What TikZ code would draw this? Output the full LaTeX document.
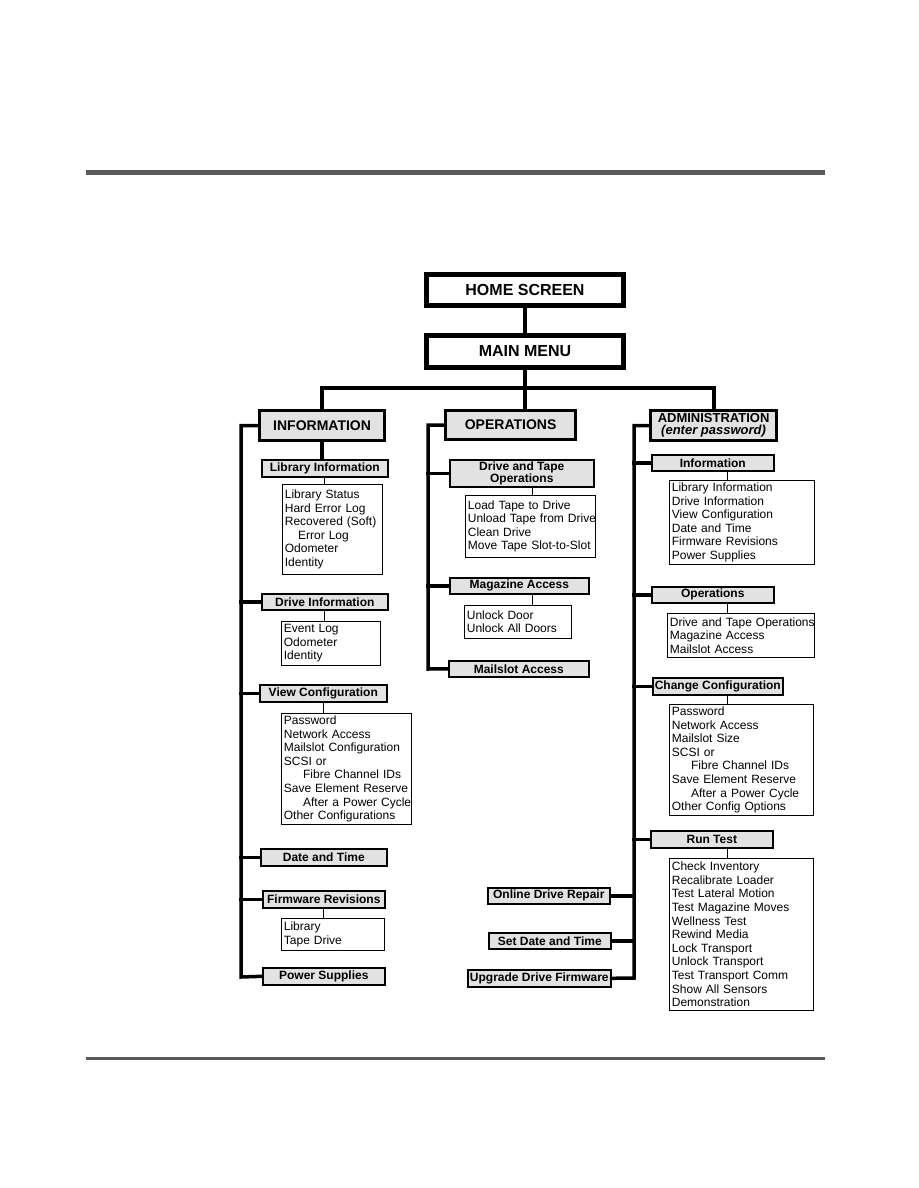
\documentclass[tikz,border=0pt]{standalone}
\usepackage{fontspec}
\usetikzlibrary{calc}
\setmainfont{Liberation Sans}
\definecolor{rulegray}{HTML}{5A5A5A}
\definecolor{boxgray}{HTML}{E2E2E2}
\begin{document}
\begin{tikzpicture}[x=1pt,y=-1pt,
  topbox/.style={draw, line width=5pt, fill=white, font=\fontsize{16}{17}\selectfont\bfseries, inner sep=0pt, anchor=north west},
  catbox/.style={draw, line width=3.2pt, fill=boxgray, font=\fontsize{14}{14}\selectfont\bfseries, inner sep=0pt, anchor=north west, align=center},
  subbox/.style={draw, line width=1.6pt, fill=boxgray, font=\fontsize{12}{12}\selectfont\bfseries, inner sep=0pt, anchor=north west, align=center},
  listbox/.style={draw, line width=0.8pt, fill=white, font=\fontsize{12}{13.6}\selectfont, align=left, anchor=north west, inner xsep=2.5pt, inner ysep=1pt},
  conn/.style={line width=4pt, line cap=rect},
  spine/.style={line width=3.5pt, line cap=rect},
  thinconn/.style={line width=0.8pt}
]
\useasboundingbox (0,0) rectangle (918,1188);
% page rules
\fill[rulegray] (86,170) rectangle (825,175);
\fill[rulegray] (86,1057) rectangle (825,1059.5);

% top level
\node[topbox, minimum width=197, minimum height=31] (home) at (424,272) {HOME SCREEN};
\node[topbox, minimum width=197, minimum height=32] (main) at (424,333) {MAIN MENU};

\node[catbox, minimum width=125, minimum height=30] (info) at (258,409) {INFORMATION};
\node[catbox, minimum width=130, minimum height=29] (ops) at (444,409) {OPERATIONS};
\node[catbox, minimum width=126, minimum height=30, font=\fontsize{13}{12}\selectfont\bfseries] (admin) at (649,409) {ADMINISTRATION\\{\bfseries\itshape(enter password)}};

\coordinate (bar) at ($(main.south)+(0,18)$);
\draw[conn] (home.south) -- (home.south |- main.north);
\draw[conn] (main.south) -- (bar);
\draw[conn] (info.north) -- (info.north |- bar) -- (admin.north |- bar) -- (admin.north);
\draw[conn] (bar) -- (bar |- ops.north);

% ---------- left column ----------
\coordinate (Lb) at (241,977);
\node[subbox, minimum width=126, minimum height=17] (libinfo) at (261,459) {Library Information};
\node[listbox, text width=95, minimum height=90] (liblist) at (282,484) {Library Status\\Hard Error Log\\Recovered (Soft)\\\hspace*{1.1em}Error Log\\Odometer\\Identity};
\node[subbox, minimum width=126, minimum height=16] (drvinfo) at (261,593) {Drive Information};
\node[listbox, text width=94, minimum height=44] (drvlist) at (281,621) {Event Log\\Odometer\\Identity};
\node[subbox, minimum width=127, minimum height=17] (viewcfg) at (259,684) {View Configuration};
\node[listbox, text width=125, minimum height=111] (viewlist) at (281,713) {Password\\Network Access\\\mbox{Mailslot Configuration}\\SCSI or\\\hspace*{1.6em}\mbox{Fibre Channel IDs}\\\mbox{Save Element Reserve}\\\hspace*{1.6em}\mbox{After a Power Cycle}\\\mbox{Other Configurations}};
\node[subbox, minimum width=126, minimum height=17] (datetime) at (260,848) {Date and Time};
\node[subbox, minimum width=122, minimum height=17] (fwrev) at (262,890) {Firmware Revisions};
\node[listbox, text width=98, minimum height=32] (fwlist) at (281,918) {Library\\Tape Drive};
\node[subbox, minimum width=122, minimum height=17] (power) at (262,967) {Power Supplies};

\draw[spine] (info.south) -- (info.south |- libinfo.north);
\draw[spine] (info.west) -| (Lb) -- (power.west);
\draw[spine] (drvinfo.west -| Lb) -- (drvinfo.west);
\draw[spine] (viewcfg.west -| Lb) -- (viewcfg.west);
\draw[spine] (datetime.west -| Lb) -- (datetime.west);
\draw[spine] (fwrev.west -| Lb) -- (fwrev.west);
\draw[thinconn] (libinfo.south) -- (libinfo.south |- liblist.north);
\draw[thinconn] (drvinfo.south) -- (drvinfo.south |- drvlist.north);
\draw[thinconn] (viewcfg.south) -- (viewcfg.south |- viewlist.north);
\draw[thinconn] (fwrev.south) -- (fwrev.south |- fwlist.north);

% ---------- middle column ----------
\coordinate (Mb) at (428,669);
\node[subbox, minimum width=144, minimum height=27] (dto) at (449,459) {Drive and Tape\\Operations};
\node[listbox, text width=125, minimum height=62] (dtolist) at (465,495) {\mbox{Load Tape to Drive}\\\mbox{Unload Tape from Drive}\\Clean Drive\\\mbox{Move Tape Slot-to-Slot}};
\node[subbox, minimum width=139, minimum height=16] (mag) at (449,577) {Magazine Access};
\node[listbox, text width=102, minimum height=33] (maglist) at (464,605) {Unlock Door\\\mbox{Unlock All Doors}};
\node[subbox, minimum width=140, minimum height=16] (mail) at (448,660) {Mailslot Access};

\draw[spine] (ops.west) -| (Mb) -- (mail.west);
\draw[spine] (dto.west -| Mb) -- (dto.west);
\draw[spine] (mag.west -| Mb) -- (mag.west);
\draw[thinconn] (dtolist.north -| 532,0) -- (dto.south -| 532,0);
\draw[thinconn] (maglist.north -| 532,0) -- (mag.south -| 532,0);

% ---------- right column ----------
\coordinate (Rb) at (634,978);
\node[subbox, minimum width=122, minimum height=16] (rinfo) at (651,454) {Information};
\node[listbox, text width=140, minimum height=84] (rinfolist) at (669,480) {Library Information\\Drive Information\\View Configuration\\Date and Time\\\mbox{Firmware Revisions}\\Power Supplies};
\node[subbox, minimum width=122, minimum height=16] (rops) at (651,586) {Operations};
\node[listbox, text width=142, minimum height=44] (ropslist) at (667,613) {\mbox{Drive and Tape Operations}\\Magazine Access\\Mailslot Access};
\node[subbox, minimum width=130, minimum height=17] (chcfg) at (652,677) {Change Configuration};
\node[listbox, text width=139, minimum height=111] (chcfglist) at (669,704) {Password\\Network Access\\Mailslot Size\\SCSI or\\\hspace*{1.6em}\mbox{Fibre Channel IDs}\\\mbox{Save Element Reserve}\\\hspace*{1.6em}\mbox{After a Power Cycle}\\\mbox{Other Config Options}};
\node[subbox, minimum width=122, minimum height=17] (runtest) at (650,830) {Run Test};
\node[listbox, text width=139, minimum height=152] (runlist) at (669,858) {Check Inventory\\\mbox{Recalibrate Loader}\\\mbox{Test Lateral Motion}\\\mbox{Test Magazine Moves}\\Wellness Test\\Rewind Media\\Lock Transport\\\mbox{Unlock Transport}\\\mbox{Test Transport Comm}\\\mbox{Show All Sensors}\\Demonstration};
\node[subbox, minimum width=122, minimum height=16] (online) at (487,887) {Online Drive Repair};
\node[subbox, minimum width=122, minimum height=16] (setdt) at (488,932) {Set Date and Time};
\node[subbox, minimum width=143, minimum height=17] (upgrade) at (467,969) {Upgrade Drive Firmware};

\draw[spine] (admin.west) -| (Rb) -- (upgrade.east);
\draw[spine] (rinfo.west -| Rb) -- (rinfo.west);
\draw[spine] (rops.west -| Rb) -- (rops.west);
\draw[spine] (chcfg.west -| Rb) -- (chcfg.west);
\draw[spine] (runtest.west -| Rb) -- (runtest.west);
\draw[spine] (online.east) -- (online.east -| Rb);
\draw[spine] (setdt.east) -- (setdt.east -| Rb);
\draw[thinconn] (rinfolist.north -| 727,0) -- (rinfo.south -| 727,0);
\draw[thinconn] (ropslist.north -| 727,0) -- (rops.south -| 727,0);
\draw[thinconn] (chcfglist.north -| 727,0) -- (chcfg.south -| 727,0);
\draw[thinconn] (runlist.north -| 727,0) -- (runtest.south -| 727,0);
\end{tikzpicture}
\end{document}
